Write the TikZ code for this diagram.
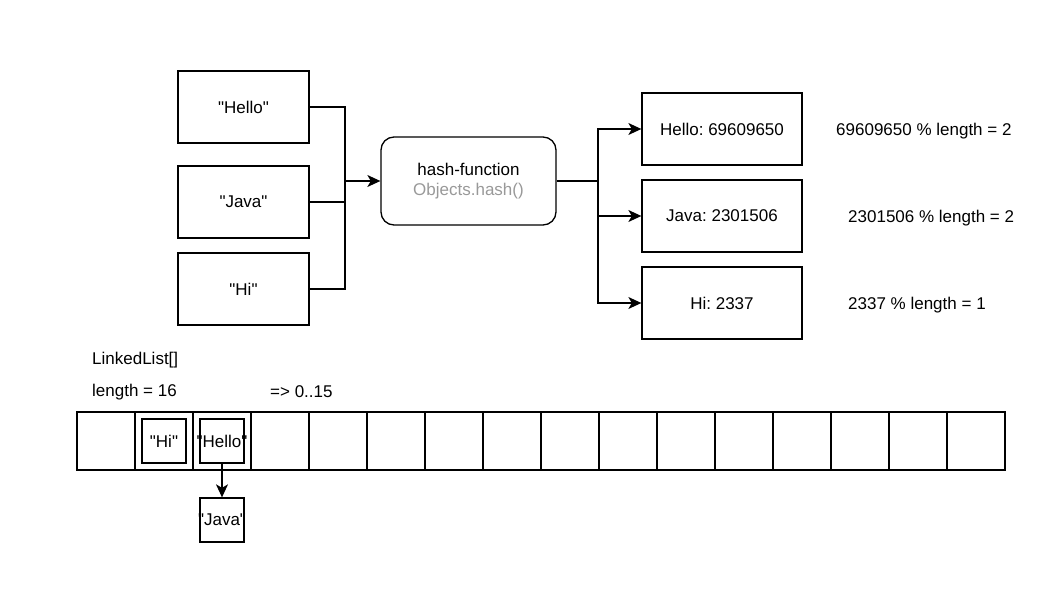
\documentclass[tikz,border=0pt]{standalone}
\usepackage{fontspec}
\setmainfont{Liberation Sans}[Ligatures=TeXOff]
\usepackage{tikz}
\usetikzlibrary{arrows.meta, positioning}
\usepackage{xcolor}
\definecolor{objgray}{RGB}{153,153,153}
\frenchspacing
\tikzset{wordbox/.style={rectangle, draw=black, line width=1.3pt, minimum width=131pt, minimum height=72pt},resultbox/.style={rectangle, draw=black, line width=1.3pt, minimum width=160pt, minimum height=72pt}}
\tikzset{cellbox/.style={rectangle, draw=black, line width=1.3pt, minimum size=58pt, inner sep=0pt},entrybox/.style={rectangle, draw=black, line width=1.3pt, minimum size=44pt, inner sep=0pt}}
\tikzset{plaintext/.style={inner sep=0pt, anchor=west},flowarrow/.style={-{Stealth[length=13pt, width=12pt, inset=3.5pt]}, line width=1.3pt}}

\begin{document}
\begin{tikzpicture}[
        x=1pt, y=-1pt,
        line join=miter,
        font=\fontsize{17}{20}\selectfont,
    ]
        \useasboundingbox (0,0) rectangle (1047,596);
        % Input words
        \node[wordbox] (hello) at (243.5,107) {"Hello"};
        \node[wordbox] (java) at (243.5,202) {"Java"};
        \node[wordbox] (hi) at (243.5,289) {"Hi"};
        % Hash function
        \node[rectangle, draw=black, line width=1.3pt, rounded corners=13pt, minimum width=175pt, minimum height=88pt, align=center] (hash) at (468.5,181) {hash-function\\[0pt]\textcolor{objgray}{Objects.hash()}};
        % Hash values
        \node[resultbox] (hhello) at (722,129) {Hello: 69609650};
        \node[resultbox] (hjava) at (722,216) {Java: 2301506};
        \node[resultbox] (hhi) at (722,303) {Hi: 2337};
        \node[plaintext] (mhello) at (836,131) {69609650 \% length = 2};
        \node[plaintext] (mjava) at (848,218) {2301506 \% length = 2};
        \node[plaintext] (mhi) at (848,305) {2337 \% length = 1};
        % Connectors
        \coordinate (merge) at (345,181);
        \coordinate (split) at (598,181);
        \draw[line width=1.3pt] (hello.east) -| (merge);
        \draw[line width=1.3pt] (java.east) -- (java.east -| merge);
        \draw[line width=1.3pt] (hi.east) -| (merge);
        \draw[flowarrow] (merge) -- (hash.west);
        \draw[line width=1.3pt] (hash.east) -- (split);
        \draw[flowarrow] (split) |- (hhello.west);
        \draw[flowarrow] (split) |- (hjava.west);
        \draw[flowarrow] (split) |- (hhi.west);
        % Array
        \node[plaintext] (listname) at (92,360) {LinkedList[]};
        \node[plaintext] (listlen) at (92,392) {length = 16};
        \node[plaintext] (listrange) at (270,392) {=> 0..15};
        \foreach \i in {0,...,15} {
            \node[cellbox] (cell\i) at ({106+58*\i},441) {};
        }
        % Buckets
        \node[entrybox, label={center:"Hi"}] (bhi) at (cell1) {};
        \node[entrybox, label={center:"Hello"}] (bhello) at (cell2) {};
        \node[entrybox, label={center:"Java"}] (bjava) at (222,520) {};
        \draw[flowarrow] (bhello.south) -- (bjava.north);
    \end{tikzpicture}
\end{document}
